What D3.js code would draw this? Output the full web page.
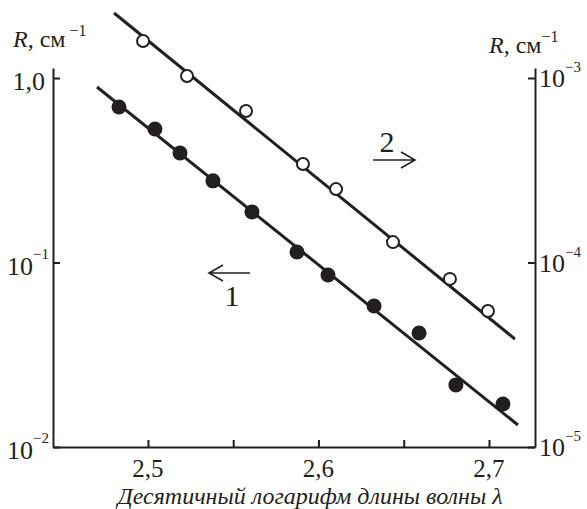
<!DOCTYPE html>
<html>
<head>
<meta charset="UTF-8">
<title>R vs log wavelength</title>
<script src="https://cdn.jsdelivr.net/npm/d3@7"></script>
<style>
	body { margin: 0; background: #fff; }
	svg text { font-family: "Liberation Serif", "Times New Roman", serif; fill: #231f20; }
	.axis path, .axis line { stroke: #231f20; stroke-width: 2; }
	.fit { fill: none; stroke: #231f20; stroke-width: 3; }
	.dot-filled { fill: #231f20; }
	.dot-open { fill: #fff; stroke: #231f20; stroke-width: 2; }
	.arrow { fill: none; stroke: #231f20; stroke-width: 1.6; }
</style>
</head>
<body>
<svg id="chart" width="587" height="509"></svg>
<script>
	// series 1 (filled, left axis)
	const x1 = [2.483, 2.5041, 2.5188, 2.5381, 2.561, 2.5874, 2.6056, 2.6326, 2.659, 2.6806, 2.7082];
	const r1 = [0.696, 0.529, 0.392, 0.277, 0.188, 0.114, 0.0855, 0.0581, 0.0415, 0.0217, 0.0171];
	// series 2 (open, right axis)
	const x2 = [2.4971, 2.5229, 2.5575, 2.5909, 2.6103, 2.6437, 2.6771, 2.6994];
	const r2 = [1.587e-3, 1.025e-3, 6.63e-4, 3.42e-4, 2.50e-4, 1.29e-4, 8.15e-5, 5.46e-5];
	// fitted lines (end points)
	const fit1X = [2.4701, 2.717], fit1R = [0.894, 0.01316];
	const fit2X = [2.4801, 2.7152], fit2R = [2.25e-3, 3.85e-5];

	const xTicks = [2.5, 2.55, 2.6, 2.65, 2.7];
	const xLabels = {2.5: '2,5', 2.6: '2,6', 2.7: '2,7'};
	const leftTicks = [1, 0.1, 0.01];
	const leftLabels = [['1,0', ''], ['10', '−1'], ['10', '−2']];
	const rightTicks = [1e-3, 1e-4, 1e-5];
	const rightLabels = [['10', '−3'], ['10', '−4'], ['10', '−5']];

	const pLeft = 53, pRight = 535, pTop = 68, pBottom = 447;

	const svg = d3.select('#chart');
	const x = d3.scaleLinear().domain([2.4443, 2.727]).range([pLeft, pRight]);
	const yL = d3.scaleLog().domain([0.01, 1.133]).range([pBottom, pTop]);
	const yR = d3.scaleLog().domain([1e-5, 1.133e-3]).range([pBottom, pTop]);

	// axes, ticks inward
	svg.append('g').attr('class', 'axis')
		.attr('transform', `translate(0,${pBottom})`)
		.call(d3.axisBottom(x).tickValues(xTicks).tickSizeInner(-7).tickSizeOuter(0).tickFormat(''));
	svg.append('g').attr('class', 'axis')
		.attr('transform', `translate(${pLeft},0)`)
		.call(d3.axisLeft(yL).tickValues(leftTicks).tickSizeInner(-7).tickSizeOuter(0).tickFormat(''));
	svg.append('g').attr('class', 'axis')
		.attr('transform', `translate(${pRight},0)`)
		.call(d3.axisRight(yR).tickValues(rightTicks).tickSizeInner(-7).tickSizeOuter(0).tickFormat(''));

	// tick labels
	xTicks.filter(d => xLabels[d]).forEach(d => {
		svg.append('text').attr('x', x(d)).attr('y', 477)
			.attr('text-anchor', 'middle').attr('font-size', 25).text(xLabels[d]);
	});
	leftTicks.forEach((d, i) => {
		const t = svg.append('text').attr('x', leftLabels[i][1] ? 49 : 45).attr('y', yL(d) + 12)
			.attr('text-anchor', 'end').attr('font-size', 26);
		t.append('tspan').text(leftLabels[i][0]);
		if (leftLabels[i][1]) t.append('tspan').attr('dy', -16).attr('font-size', 15).text(leftLabels[i][1]);
	});
	rightTicks.forEach((d, i) => {
		const t = svg.append('text').attr('x', 539).attr('y', yR(d) + 9).attr('font-size', 26);
		t.append('tspan').text(rightLabels[i][0]);
		t.append('tspan').attr('dy', -15).attr('font-size', 15).text(rightLabels[i][1]);
	});

	// axis titles
	function rLabel(px, py, sup) {
		const t = svg.append('text').attr('x', px).attr('y', py).attr('font-size', 24);
		t.append('tspan').attr('font-style', 'italic').text('R');
		t.append('tspan').text(', см');
		t.append('tspan').attr('dy', -11).attr('font-size', 16).text(sup);
	}
	rLabel(13, 47, ' −1');
	rLabel(489, 53, '−1');

	svg.append('text').attr('x', 310).attr('y', 504)
		.attr('text-anchor', 'middle').attr('font-size', 24).attr('font-style', 'italic')
		.text('Десятичный логарифм длины волны λ');

	// fitted lines
	const line1 = d3.line().x(d => x(d[0])).y(d => yL(d[1]));
	const line2 = d3.line().x(d => x(d[0])).y(d => yR(d[1]));
	svg.append('path').attr('class', 'fit').attr('d', line1(d3.zip(fit1X, fit1R)));
	svg.append('path').attr('class', 'fit').attr('d', line2(d3.zip(fit2X, fit2R)));

	// points
	svg.append('g').selectAll('circle').data(d3.zip(x1, r1)).join('circle')
		.attr('class', 'dot-filled').attr('cx', d => x(d[0])).attr('cy', d => yL(d[1])).attr('r', 7.5);
	svg.append('g').selectAll('circle').data(d3.zip(x2, r2)).join('circle')
		.attr('class', 'dot-open').attr('cx', d => x(d[0])).attr('cy', d => yR(d[1])).attr('r', 6);

	// series markers: arrows with numbers
	function arrow(x0, xEnd, yy) {
		const dir = Math.sign(xEnd - x0);
		svg.append('path').attr('class', 'arrow')
			.attr('d', `M${x0},${yy}L${xEnd},${yy}M${xEnd - dir * 14},${yy - 8}L${xEnd},${yy}L${xEnd - dir * 14},${yy + 8}`);
	}
	arrow(250, 209, 273);
	svg.append('text').attr('x', 232).attr('y', 306).attr('text-anchor', 'middle').attr('font-size', 30).text('1');
	arrow(373, 415, 160);
	svg.append('text').attr('x', 387).attr('y', 152).attr('text-anchor', 'middle').attr('font-size', 30).text('2');
</script>
</body>
</html>
